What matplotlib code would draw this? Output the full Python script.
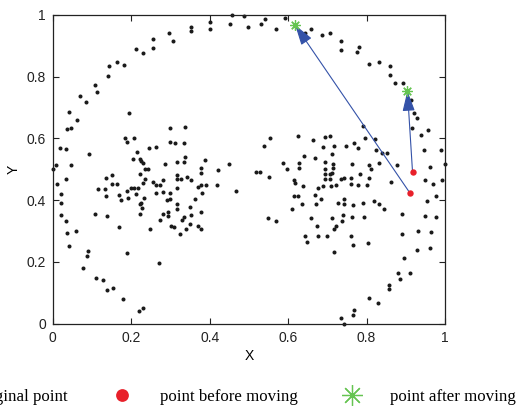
import numpy as np
import matplotlib.pyplot as plt

# original samples, grouped by region of the unit square (x, y)
upper_left = [
    (0.456, 0.999), (0.488, 0.997), (0.453, 0.970), (0.498, 0.961), (0.400, 0.976),
    (0.400, 0.954), (0.352, 0.962), (0.352, 0.949), (0.296, 0.942), (0.306, 0.917),
    (0.255, 0.921), (0.255, 0.893), (0.211, 0.889), (0.229, 0.877), (0.164, 0.849),
    (0.144, 0.834), (0.182, 0.838), (0.142, 0.802), (0.107, 0.773), (0.113, 0.750),
    (0.069, 0.738), (0.084, 0.717), (0.041, 0.686), (0.194, 0.683),
]
upper_right = [
    (0.532, 0.972), (0.542, 0.986), (0.570, 0.954), (0.593, 0.990), (0.644, 0.942),
    (0.659, 0.954), (0.686, 0.936), (0.706, 0.941), (0.734, 0.917), (0.734, 0.886),
    (0.781, 0.897), (0.776, 0.881), (0.807, 0.841), (0.831, 0.849), (0.860, 0.834),
    (0.860, 0.806), (0.872, 0.781), (0.894, 0.781), (0.914, 0.725), (0.904, 0.701),
    (0.922, 0.682), (0.928, 0.667),
]
middle_left = [
    (0.063, 0.661), (0.037, 0.629), (0.047, 0.633), (0.019, 0.569), (0.034, 0.565),
    (0.093, 0.549), (0.009, 0.513), (0.002, 0.502), (0.047, 0.513), (0.034, 0.470),
    (0.012, 0.453), (0.022, 0.420), (0.022, 0.392), (0.021, 0.352), (0.034, 0.334),
    (0.108, 0.356), (0.138, 0.349), (0.183, 0.600), (0.189, 0.589), (0.208, 0.600),
    (0.214, 0.557), (0.245, 0.568), (0.264, 0.572), (0.205, 0.533), (0.223, 0.533),
    (0.225, 0.527), (0.230, 0.520), (0.234, 0.500), (0.242, 0.500), (0.223, 0.484),
    (0.236, 0.469), (0.230, 0.457), (0.135, 0.472), (0.150, 0.481), (0.150, 0.452),
    (0.164, 0.452), (0.116, 0.436), (0.132, 0.436), (0.135, 0.413), (0.169, 0.416),
    (0.173, 0.401), (0.189, 0.429), (0.192, 0.408), (0.199, 0.441), (0.208, 0.441),
    (0.218, 0.441), (0.211, 0.420), (0.233, 0.408), (0.226, 0.392), (0.222, 0.388),
    (0.228, 0.376), (0.222, 0.356), (0.255, 0.460), (0.262, 0.448), (0.273, 0.448),
    (0.280, 0.464), (0.262, 0.424), (0.280, 0.428), (0.299, 0.424), (0.299, 0.404),
    (0.290, 0.401), (0.286, 0.516), (0.299, 0.633), (0.336, 0.637), (0.299, 0.589),
    (0.312, 0.584), (0.334, 0.584), (0.337, 0.541), (0.318, 0.525), (0.334, 0.525),
    (0.318, 0.481), (0.318, 0.469), (0.327, 0.469), (0.342, 0.476), (0.352, 0.464),
    (0.318, 0.441), (0.318, 0.389), (0.318, 0.373), (0.349, 0.377), (0.362, 0.405),
    (0.371, 0.444), (0.377, 0.448), (0.390, 0.448), (0.381, 0.424), (0.377, 0.504),
    (0.377, 0.488), (0.387, 0.529), (0.421, 0.497), (0.419, 0.448), (0.449, 0.516),
    (0.466, 0.429), (0.280, 0.356), (0.293, 0.361), (0.295, 0.349), (0.273, 0.337),
    (0.334, 0.344), (0.330, 0.337), (0.352, 0.352), (0.377, 0.361),
]
middle_right = [
    (0.791, 0.641), (0.554, 0.601), (0.539, 0.577), (0.624, 0.609), (0.664, 0.596),
    (0.693, 0.605), (0.706, 0.609), (0.690, 0.572), (0.718, 0.577), (0.747, 0.577),
    (0.769, 0.585), (0.778, 0.568), (0.797, 0.601), (0.822, 0.597), (0.825, 0.561),
    (0.838, 0.553), (0.851, 0.553), (0.640, 0.544), (0.668, 0.537), (0.712, 0.548),
    (0.693, 0.525), (0.715, 0.516), (0.715, 0.504), (0.693, 0.500), (0.693, 0.484),
    (0.706, 0.484), (0.712, 0.488), (0.693, 0.469), (0.706, 0.469), (0.586, 0.520),
    (0.596, 0.500), (0.627, 0.520), (0.627, 0.504), (0.517, 0.492), (0.529, 0.492),
    (0.551, 0.476), (0.614, 0.464), (0.618, 0.457), (0.637, 0.445), (0.677, 0.441),
    (0.690, 0.445), (0.708, 0.445), (0.721, 0.448), (0.734, 0.469), (0.743, 0.473),
    (0.760, 0.472), (0.760, 0.452), (0.778, 0.448), (0.800, 0.448), (0.784, 0.485),
    (0.806, 0.472), (0.762, 0.516), (0.806, 0.513), (0.810, 0.500), (0.832, 0.520),
    (0.878, 0.513), (0.863, 0.460), (0.614, 0.413), (0.624, 0.413), (0.668, 0.417),
    (0.684, 0.405), (0.636, 0.389), (0.671, 0.389), (0.611, 0.373), (0.727, 0.392),
    (0.743, 0.405), (0.743, 0.389), (0.766, 0.385), (0.791, 0.392), (0.819, 0.396),
    (0.832, 0.389), (0.845, 0.373), (0.891, 0.356), (0.548, 0.341), (0.570, 0.332),
    (0.658, 0.341), (0.712, 0.341), (0.741, 0.352), (0.737, 0.332), (0.762, 0.344),
    (0.794, 0.344), (0.950, 0.348), (0.976, 0.344), (0.976, 0.413), (0.954, 0.396),
    (0.970, 0.452), (0.948, 0.464), (0.992, 0.464), (0.961, 0.509), (1.000, 0.516),
    (0.945, 0.561), (0.989, 0.561), (0.939, 0.612), (0.957, 0.628), (0.916, 0.633),
]
lower_left = [
    (0.037, 0.293), (0.059, 0.300), (0.041, 0.253), (0.091, 0.237), (0.088, 0.220),
    (0.078, 0.180), (0.110, 0.148), (0.128, 0.140), (0.138, 0.108), (0.154, 0.116),
    (0.179, 0.080), (0.220, 0.040), (0.229, 0.052), (0.170, 0.312), (0.189, 0.228),
    (0.248, 0.308), (0.270, 0.197), (0.301, 0.316), (0.308, 0.312), (0.325, 0.292),
    (0.340, 0.308), (0.349, 0.324), (0.371, 0.316), (0.377, 0.308),
]
lower_right = [
    (0.674, 0.316), (0.643, 0.284), (0.649, 0.265), (0.677, 0.284), (0.699, 0.284),
    (0.721, 0.316), (0.718, 0.308), (0.760, 0.284), (0.765, 0.256), (0.718, 0.232),
    (0.803, 0.260), (0.891, 0.292), (0.932, 0.300), (0.963, 0.296), (0.929, 0.240),
    (0.961, 0.244), (0.895, 0.212), (0.879, 0.164), (0.910, 0.164), (0.885, 0.144),
    (0.857, 0.124), (0.857, 0.111), (0.806, 0.084), (0.828, 0.068), (0.769, 0.044),
    (0.765, 0.028), (0.734, 0.020), (0.743, 0.000),
]

# moved points: positions before and after
before_x = [0.910, 0.917]
before_y = [0.424, 0.492]
after_x = [0.618, 0.904]
after_y = [0.967, 0.754]

ticks = [0, 0.2, 0.4, 0.6, 0.8, 1]
tick_labels = ['0', '0.2', '0.4', '0.6', '0.8', '1']

pts = np.array(upper_left + upper_right + middle_left + middle_right
               + lower_left + lower_right)

plt.rcParams['font.family'] = ['Liberation Sans', 'DejaVu Sans']

fig = plt.figure(figsize=(5.24, 4.15), dpi=100)
ax = fig.add_axes([0.1006, 0.220, 0.7488, 0.744])

h_orig, = ax.plot(pts[:, 0], pts[:, 1], 'o', color='#1a1a1a', markersize=2.9,
                  markeredgewidth=0, label='original point', clip_on=False)

# arrows from old to new positions
for x0, y0, x1, y1 in zip(before_x, before_y, after_x, after_y):
    ax.annotate('', xy=(x1, y1), xytext=(x0, y0),
                arrowprops=dict(arrowstyle='-|>,head_length=1.25,head_width=0.38',
                                color='#3452a8', lw=0.8, shrinkA=0, shrinkB=0,
                                mutation_scale=10),
                zorder=3)

h_before, = ax.plot(before_x, before_y, 'o', color='#e8202a', markersize=4.6,
                    markeredgewidth=0, label='point before moving', zorder=4)
h_after, = ax.plot(after_x, after_y, linestyle='none', marker=(8, 2, 0),
                   color='#66c452', markersize=7.5, markeredgewidth=0.9,
                   label='point after moving', zorder=4)

ax.set_xlim(0, 1)
ax.set_ylim(0, 1)
ax.set_xticks(ticks)
ax.set_xticklabels(tick_labels)
ax.set_yticks(ticks)
ax.set_yticklabels(tick_labels)
ax.tick_params(direction='in', top=True, right=True, length=4, width=0.8,
               labelsize=10, pad=5, colors='#222222')
for s in ax.spines.values():
    s.set_linewidth(0.9)
    s.set_color('#222222')
ax.set_xlabel('X', fontsize=10, labelpad=3)
ax.set_ylabel('Y', fontsize=10, labelpad=4)

leg = fig.legend(handles=[h_orig, h_before, h_after], ncol=3, frameon=False,
                 loc='center left', bbox_to_anchor=(-0.151, 0.043),
                 borderaxespad=0, borderpad=0, markerscale=2.0,
                 handlelength=2.0, handletextpad=1.25, columnspacing=2.2,
                 prop={'family': 'Liberation Serif', 'size': 12.2})

fig.savefig('out.png', dpi=100)
